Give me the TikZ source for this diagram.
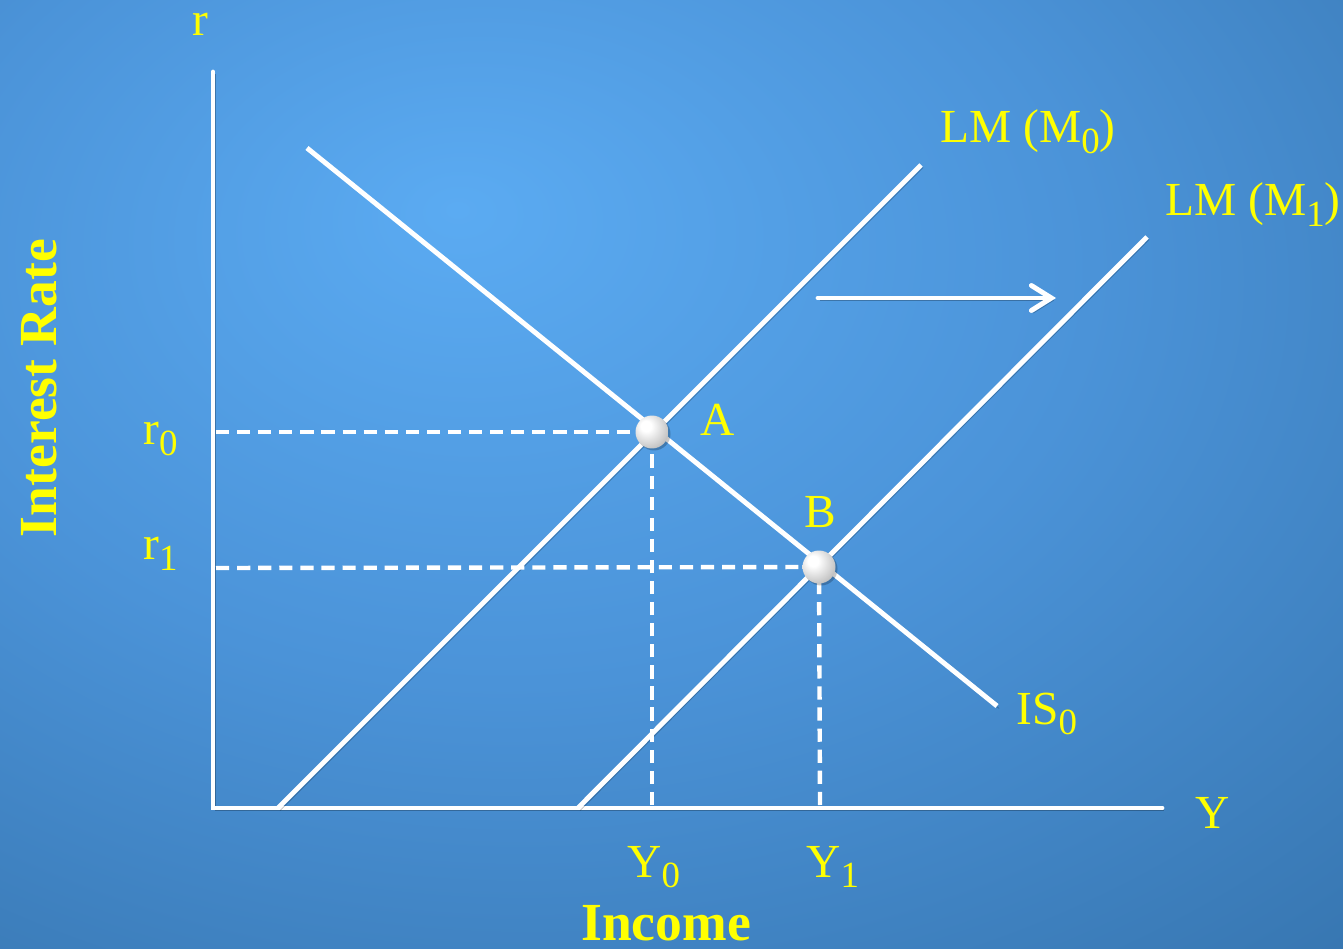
\documentclass[tikz,border=0pt]{standalone}
\usepackage{fontspec}
\setmainfont{Liberation Serif}
\usetikzlibrary{arrows.meta}
\definecolor{bglight}{HTML}{5BABF2}
\definecolor{bgmid}{HTML}{4B93D8}
\definecolor{bgdark}{HTML}{2E699F}
\definecolor{lab}{HTML}{FFFF00}
\pgfdeclareradialshading{bgshade}{\pgfpoint{-8bp}{14bp}}{color(0bp)=(bglight); color(22bp)=(bgmid); color(55bp)=(bgdark); color(100bp)=(bgdark)}
\pgfdeclareradialshading{ballshade}{\pgfpoint{-10bp}{10bp}}{color(0bp)=(white); color(8bp)=(white); color(28bp)=(white!80!black); color(45bp)=(white!62!black); color(60bp)=(white!70!black); color(80bp)=(white!70!black)}
\newcommand{\sbs}[1]{\raisebox{-6pt}{\fontsize{21}{21}\selectfont #1}}
\tikzset{
  shd/.style={preaction={draw=black,draw opacity=0.25,transform canvas={shift={(1.2pt,-1.4pt)}}}},
  curve/.style={draw=white,line width=2.8pt,shd},
  axis/.style={draw=white,line width=2.8pt,shd,line cap=round},
  guide/.style={draw=white,line width=2.5pt,dash pattern=on 7.5pt off 4.5pt},
  lbl/.style={text=lab,font=\fontsize{27}{27}\selectfont,inner sep=0pt},
  blbl/.style={text=lab,font=\fontsize{30.5}{30.5}\selectfont\bfseries,inner sep=0pt},
  ball/.style={circle,minimum size=0.66cm,inner sep=0pt,shading=ballshade,draw=none},
}
\begin{document}
\begin{tikzpicture}[x=0.02cm,y=-0.02cm]
\useasboundingbox (0,0) rectangle (1343,949);
\shade[shading=bgshade] (0,0) rectangle (1343,949);
% coordinates
\coordinate (O) at (213,808);
\coordinate (ytop) at (213,72);
\coordinate (xend) at (1162,808);
\coordinate (is1) at (307,148);
\coordinate (is2) at (997,706);
\coordinate (lm0a) at (278,808);
\coordinate (lm0b) at (921,165);
\coordinate (lm1a) at (578,808);
\coordinate (lm1b) at (1147,237);
\coordinate (r0) at (216,432);
\coordinate (r1) at (216,568);
\coordinate (y0) at (652,805);
\coordinate (y1) at (820,805);
\coordinate (arA) at (818,298);
\coordinate (arB) at (1056,298);
% axes
\draw[axis] (ytop) -- (O) -- (xend);
% curves
\draw[curve] (is1) -- (is2);
\draw[curve] (lm0a) -- (lm0b);
\draw[curve] (lm1a) -- (lm1b);
% guides
\coordinate (Apt) at (652,432);
\coordinate (Bpt) at (819,567);
\draw[guide] (r0) -- (Apt);
\draw[guide] (y0) -- (Apt);
\draw[guide] (r1) -- (Bpt);
\draw[guide] (y1) -- (Bpt);
% arrow
\draw[draw=white,line width=2.8pt,line cap=round,shd,-{Straight Barb[length=0.4cm,width=0.5cm,line cap=round]}] (arA) -- (arB);
% balls
\fill[black,opacity=0.22] (Apt)++(2,2) circle (16.5);
\fill[black,opacity=0.22] (Bpt)++(2,2) circle (16.5);
\node[ball] (A) at (Apt) {};
\node[ball] (B) at (Bpt) {};
% labels
\node[lbl] (lr) at (200,24) {r};
\node[blbl,rotate=90] (lir) at (39,388) {Interest Rate};
\node[lbl,anchor=base west] (lr0) at (143,445) {r\sbs{0}};
\node[lbl,anchor=base west] (lr1) at (143,560) {r\sbs{1}};
\node[lbl,anchor=base west] (lY0) at (627,877) {Y\sbs{0}};
\node[lbl,anchor=base west] (lY1) at (806,877) {Y\sbs{1}};
\node[blbl,anchor=base] (linc) at (666,940) {Income};
\node[lbl,anchor=base] (lY) at (1213,828) {Y};
\node[lbl,anchor=base] (lA) at (718,436) {A};
\node[lbl,anchor=base] (lB) at (820,528) {B};
\node[lbl,anchor=base west] (lIS) at (1016,724) {IS\sbs{0}};
\node[lbl,anchor=base west] (lLM0) at (940,143) {LM (M\sbs{0})};
\node[lbl,anchor=base west] (lLM1) at (1165,216) {LM (M\sbs{1})};
\end{tikzpicture}
\end{document}
